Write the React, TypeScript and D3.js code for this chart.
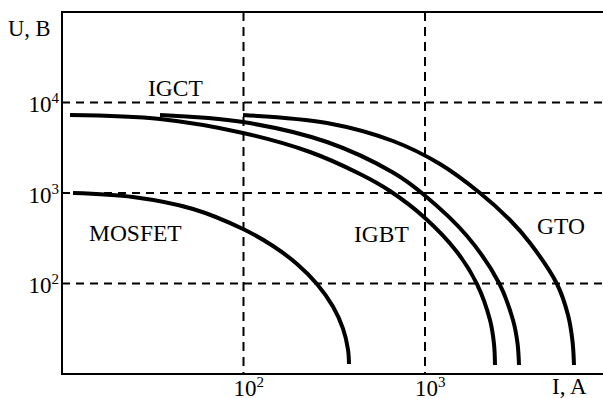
import React from "react";
import * as d3 from "d3";

type Pt = [number, number]; // [I (A), U (V)]

const mosfet: Pt[] = [
  [11.5, 1000], [24.6, 903], [52.7, 666], [99.4, 400], [145.4, 259.7], [197.2, 164.3],
  [254, 98.7], [311, 55.6], [353.4, 31.7], [376.5, 18.65], [381.3, 12.9],
];
const igbt: Pt[] = [
  [11.07, 7276], [34.67, 6573], [99.36, 4603], [232.5, 2838], [438.5, 1621], [641.5, 1052],
  [1000, 529.5], [1501, 222.9], [1934, 98.7], [2281, 39.5], [2400, 21.45], [2430, 12.57],
];
const igct: Pt[] = [
  [34.67, 7276], [99.36, 6088], [288.4, 3660], [666.3, 1684], [975, 975], [1704, 334.9],
  [2557, 101.3], [3053, 39.5], [3233, 22.0], [3295, 12.57],
];
const gto: Pt[] = [
  [99.4, 7276], [288.4, 5935], [666.3, 3755], [1209, 2091], [2009, 1000], [2939, 503],
  [3789, 280.3], [5337, 98.7], [6136, 44.87], [6495, 23.15], [6620, 12.57],
];

const series = [mosfet, igbt, igct, gto];

const xGrid = [100, 1000];
const yGrid = [100, 1000, 10000];
const xTickLabels = [
  { v: 100, base: "10", sup: "2" },
  { v: 1000, base: "10", sup: "3" },
];
const yTickLabels = [
  { v: 10000, base: "10", sup: "4" },
  { v: 1000, base: "10", sup: "3" },
  { v: 100, base: "10", sup: "2" },
];
const curveLabels = [
  { text: "IGCT", x: 148, y: 96 },
  { text: "MOSFET", x: 89, y: 241 },
  { text: "IGBT", x: 354, y: 242 },
  { text: "GTO", x: 537, y: 234 },
];

const W = 603;
const H = 398;
const left = 62;
const top = 12;
const bottom = 374;
const right = 603;

export default function App() {
  const x = d3.scaleLog().domain([10, 10000]).range([left, 606.5]);
  const y = d3.scaleLog().domain([10, 100000]).range([bottom, top]);
  const line = d3
    .line<Pt>()
    .x((d) => x(d[0]))
    .y((d) => y(d[1]))
    .curve(d3.curveCatmullRom.alpha(0.5));
  const font = "'Liberation Serif', 'Times New Roman', serif";

  return (
    <svg
      width={W}
      height={H}
      style={{ position: "absolute", left: 0, top: 0, background: "#fff" }}
      fontFamily={font}
    >
      <rect x={0} y={0} width={W} height={H} fill="#fff" />
      {xGrid.map((v) => (
        <line
          key={"gx" + v}
          x1={x(v)}
          x2={x(v)}
          y1={top}
          y2={bottom}
          stroke="#000"
          strokeWidth={2}
          strokeDasharray="9,6"
        />
      ))}
      {yGrid.map((v) => (
        <line
          key={"gy" + v}
          x1={left}
          x2={right}
          y1={y(v)}
          y2={y(v)}
          stroke="#000"
          strokeWidth={2}
          strokeDasharray="8,6"
        />
      ))}
      <line x1={left} x2={left} y1={top - 1} y2={bottom + 1} stroke="#000" strokeWidth={2} />
      <line x1={left} x2={right} y1={top} y2={top} stroke="#000" strokeWidth={2} />
      <line x1={left} x2={right} y1={bottom} y2={bottom} stroke="#000" strokeWidth={2} />
      {series.map((s, i) => (
        <path key={i} d={line(s) || ""} fill="none" stroke="#000" strokeWidth={4} />
      ))}
      {yTickLabels.map((t) => (
        <text key={"yt" + t.v} x={59} y={y(t.v) + 9.5} textAnchor="end" fontSize={23} fill="#000">
          {t.base}
          <tspan fontSize={15} dy={-9}>
            {t.sup}
          </tspan>
        </text>
      ))}
      {xTickLabels.map((t) => (
        <text key={"xt" + t.v} x={x(t.v) - 10} y={396} fontSize={23} fill="#000">
          {t.base}
          <tspan fontSize={15} dy={-9}>
            {t.sup}
          </tspan>
        </text>
      ))}
      <text x={8} y={36} fontSize={22.5} fill="#000">
        U, B
      </text>
      <text x={552} y={394} fontSize={23} fill="#000">
        I, A
      </text>
      {curveLabels.map((l) => (
        <text key={l.text} x={l.x} y={l.y} fontSize={23.5} fill="#000">
          {l.text}
        </text>
      ))}
    </svg>
  );
}
